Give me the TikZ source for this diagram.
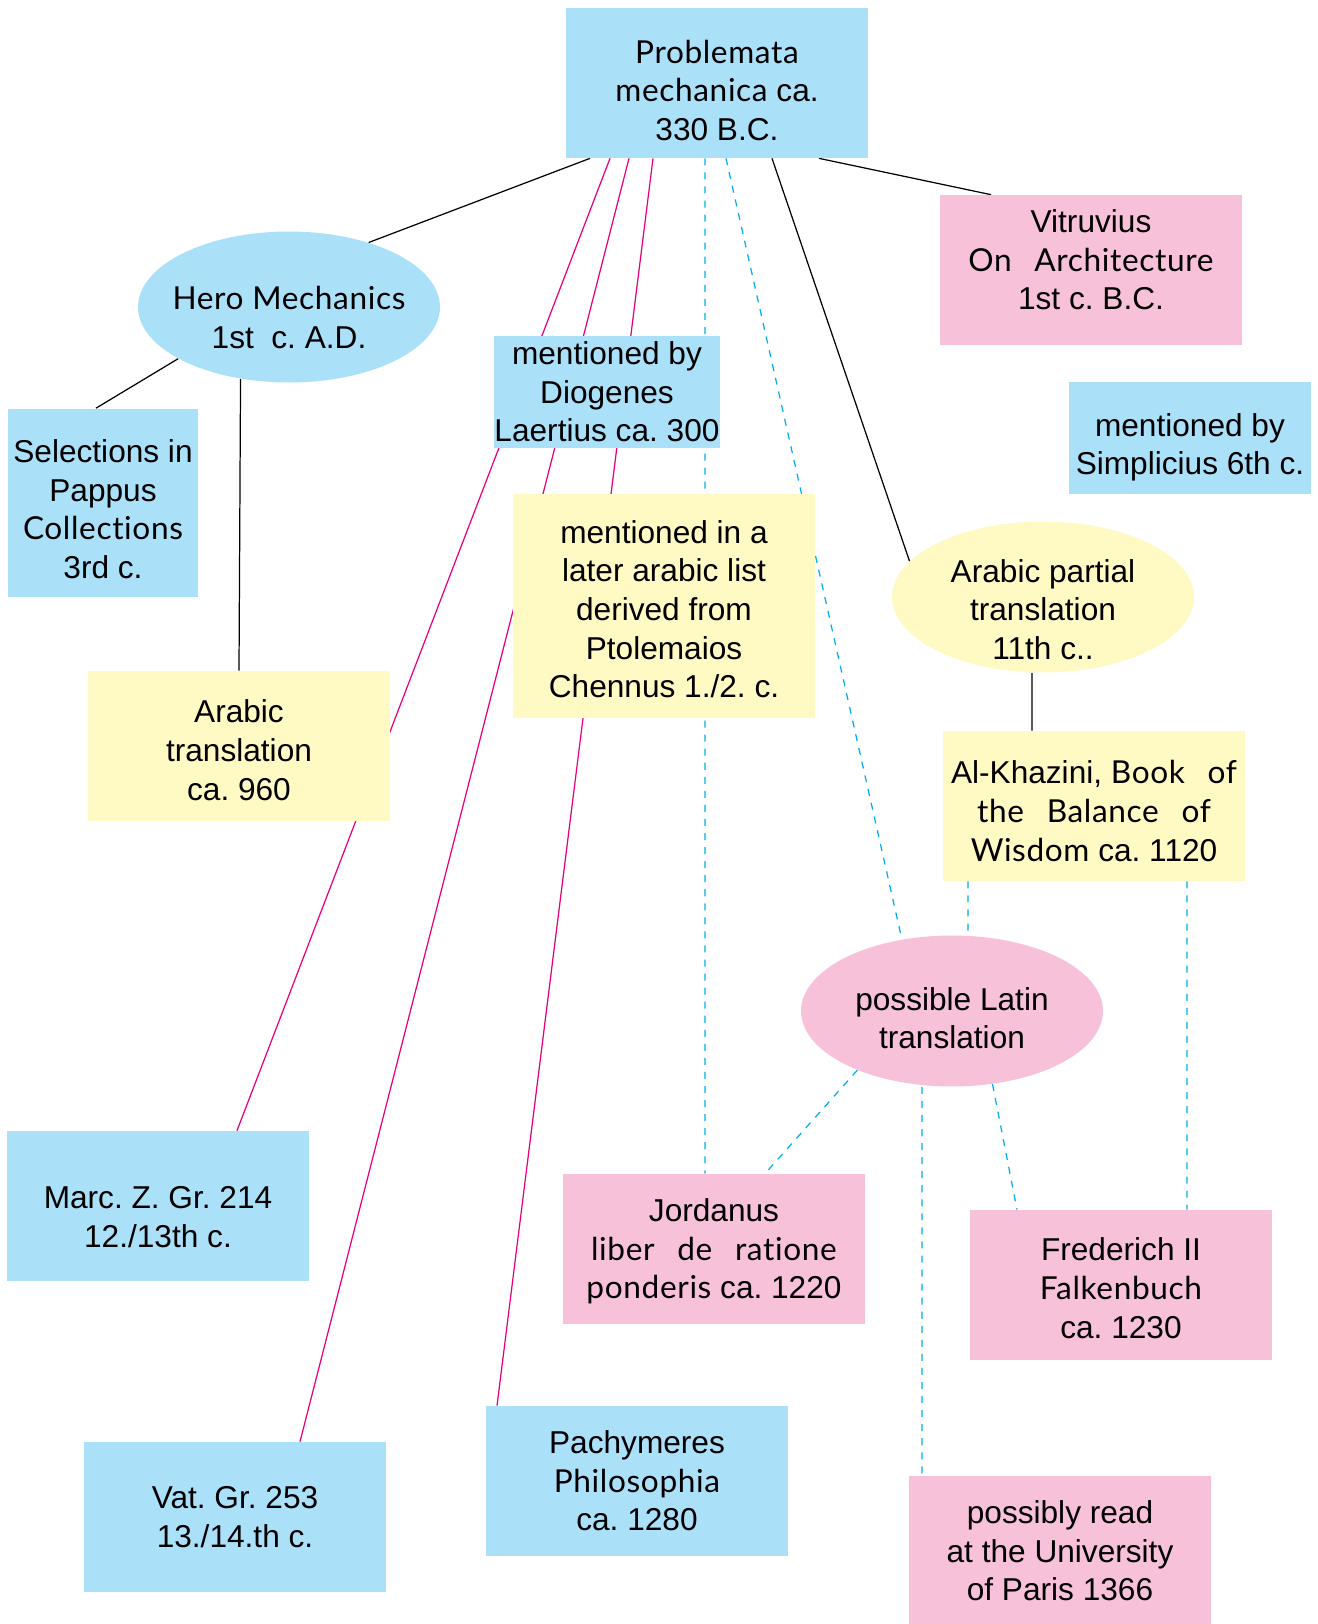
\documentclass[tikz,border=0pt]{standalone}
\usepackage{fontspec}
\setmainfont{Liberation Sans}
\newfontfamily\gill{Lato}[LetterSpace=2.0,WordSpace=2.6,Ligatures=NoCommon]
\usetikzlibrary{shapes.geometric,backgrounds}
\frenchspacing

\definecolor{skyblue}{HTML}{ABE0F9}
\definecolor{rosepink}{HTML}{F6C1D9}
\definecolor{paleyellow}{HTML}{FFF9C4}
\definecolor{greekline}{HTML}{E6007E}
\definecolor{latinline}{HTML}{00AEEF}

% struts that move the text of a node down or up by #1
\newcommand\pushdown[1]{\rule{0pt}{\dimexpr13.2pt+2\dimexpr#1\relax\relax}}
\newcommand\pushup[1]{\rule[-2\dimexpr#1\relax]{0pt}{0pt}}

\tikzset{
  every node/.style={font=\fontsize{18}{22}\selectfont, align=center, inner sep=0pt},
  box/.style={rectangle, minimum width=6.04cm, minimum height=3cm},
  oval/.style={ellipse, inner xsep=-0.8cm, inner ysep=-0.3cm, minimum width=6.04cm, minimum height=3.02cm},
  bluebox/.style={fill=skyblue},
  pinkbox/.style={fill=rosepink},
  yellowbox/.style={fill=paleyellow},
  plainlink/.style={draw=black, line width=0.7pt},
  greeklink/.style={draw=greekline, line width=0.7pt},
  latinlink/.style={draw=latinline, line width=0.7pt, dash pattern=on 4pt off 4pt}
}

\begin{document}
\begin{tikzpicture}[x=0.02cm,y=-0.02cm]
\useasboundingbox (0,0) rectangle (1318,1624);

% sources
\node[box,bluebox] (prob) at (717,83) {\pushdown{4.1pt}{\gill Problemata}\\{\gill mechanica} ca.\\330 B.C.};
\node[oval,bluebox] (hero) at (289,307) {\pushdown{5.9pt}{\gill Hero} {\gill Mechanics}\\1st\ \ c. A.D.};
\node[box,pinkbox] (vitr) at (1091,270) {Vitruvius\\{\gill On Architecture}\\1st c. B.C.\pushup{5.9pt}};
\node[box,bluebox,minimum width=4.54cm,minimum height=2.24cm] (diog) at (607,392) {mentioned by\\Diogenes\\Laertius ca. 300};
\node[box,bluebox,minimum width=4.86cm,minimum height=2.24cm] (simp) at (1190,438) {\pushdown{5.3pt}mentioned by\\Simplicius 6th c.};
\node[box,bluebox,minimum width=3.8cm,minimum height=3.78cm] (papp) at (103,503) {\pushdown{3.5pt}Selections in\\Pappus\\{\gill Collections}\\3rd c.};

% arabic tradition
\node[box,yellowbox,minimum height=4.5cm] (ptol) at (664,606) {\pushdown{1.8pt}mentioned in a\\later arabic list\\derived from\\Ptolemaios\\Chennus 1./2. c.};
\node[oval,yellowbox] (arpart) at (1043,597) {\pushdown{7pt}Arabic partial\\translation\\11th c..};
\node[box,yellowbox] (artr) at (239,746) {\pushdown{2.3pt}Arabic\\translation\\ca. 960};
\node[box,yellowbox] (khaz) at (1094,806) {\pushdown{2.9pt}Al-Khazini, {\gill Book of}\\{\gill the Balance of}\\{\gill Wisdom} ca. 1120};

% latin tradition
\node[oval,pinkbox] (latin) at (952,1011) {\pushdown{4.1pt}possible Latin\\translation};
\node[box,pinkbox] (jord) at (714,1249) {\pushdown{1.2pt}Jordanus\\{\gill liber de ratione}\\{\gill ponderis} ca. 1220};
\node[box,pinkbox] (fred) at (1121,1285) {\pushdown{1.8pt}Frederich II\\{\gill Falkenbuch}\\ca. 1230};
\node[box,pinkbox] (read) at (1060,1551) {possibly read\\at the University\\of Paris 1366};

% greek manuscripts
\node[box,bluebox] (marc) at (158,1206) {\pushdown{5.9pt}Marc. Z. Gr. 214\\12./13th c.};
\node[box,bluebox] (vat) at (235,1517) {Vat. Gr. 253\\13./14.th c.};
\node[box,bluebox] (pach) at (637,1481) {Pachymeres\\{\gill Philosophia}\\ca. 1280};

\begin{scope}[on background layer]
% direct links
\draw[plainlink] ([xshift=-2.54cm]prob.south) -- (hero.39);
\draw[plainlink] ([xshift=2.04cm]prob.south) -- ([xshift=-2cm]vitr.north);
\draw[plainlink] ([xshift=1.1cm]prob.south) -- (arpart.165);
\draw[plainlink] (hero.205) -- ([xshift=-0.14cm]papp.north);
\draw[plainlink] (hero.236) -- (artr.north);
\draw[plainlink] ([xshift=-0.22cm]arpart.south) -- ([xshift=-1.24cm]khaz.north);
% greek copies
\draw[greeklink] ([xshift=-2.14cm]prob.south) -- ([xshift=1.58cm]marc.north);
\draw[greeklink] ([xshift=-1.76cm]prob.south) -- ([xshift=1.3cm]vat.north);
\draw[greeklink] ([xshift=-1.28cm]prob.south) -- ([xshift=-2.8cm]pach.north);
% latin reception
\draw[latinlink] ([xshift=-0.24cm]prob.south) -- ([xshift=-0.18cm]jord.north);
\draw[latinlink] ([xshift=0.18cm]prob.south) -- (latin.125);
\draw[latinlink] ([xshift=-2.52cm]khaz.south) -- ([xshift=0.32cm]latin.north);
\draw[latinlink] ([xshift=1.86cm]khaz.south) -- ([xshift=1.32cm]fred.north);
\draw[latinlink] (latin.212) -- ([xshift=1.02cm]jord.north);
\draw[latinlink] (latin.299) -- ([xshift=-2.08cm]fred.north);
\draw[latinlink] ([xshift=-0.6cm]latin.south) -- ([xshift=-2.76cm]read.north);
\end{scope}
\end{tikzpicture}
\end{document}
